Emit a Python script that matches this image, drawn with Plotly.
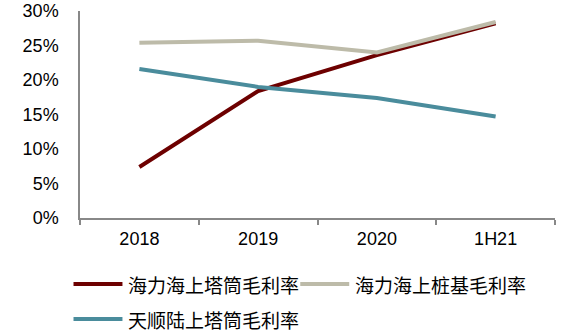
import plotly.graph_objects as go

# Gross margin by period (%)
periods = ["2018", "2019", "2020", "1H21"]
haili_tower = [7.4, 18.4, 23.6, 28.2]      # 海力海上塔筒毛利率
haili_pile = [25.4, 25.7, 24.0, 28.4]      # 海力海上桩基毛利率
tianshun_tower = [21.6, 19.0, 17.4, 14.7]  # 天顺陆上塔筒毛利率

series = [
    ("海力海上塔筒毛利率", haili_tower, "#6d0000"),
    ("海力海上桩基毛利率", haili_pile, "#bdbba9"),
    ("天顺陆上塔筒毛利率", tianshun_tower, "#4a8c9c"),
]

W, H = 583, 332
ML, MR, MT, MB = 79.5, 28, 11, 114

fig = go.Figure()
for name, vals, color in series:
    fig.add_trace(go.Scatter(
        x=periods, y=vals, name=name, mode="lines",
        line=dict(color=color, width=4),
        showlegend=False,
    ))

# Hand-drawn legend (line sample + label), positioned in pixels
pw = W - ML - MR
ph = H - MT - MB
def px_x(p):
    return (p - ML) / pw
def px_y(p):
    return 1 - (p - MT) / ph

legend_pos = [(73, 122, 126, 284), (300, 349, 353, 284), (73, 122, 126, 319)]
shapes = []
annotations = []
for (name, _, color), (x0, x1, tx, ty) in zip(series, legend_pos):
    shapes.append(dict(type="line", xref="paper", yref="paper",
                       x0=px_x(x0), x1=px_x(x1), y0=px_y(ty), y1=px_y(ty),
                       line=dict(color=color, width=4)))
    annotations.append(dict(text=name, xref="paper", yref="paper",
                            x=px_x(tx), y=px_y(ty), xanchor="left", yanchor="middle",
                            showarrow=False,
                            font=dict(family="Noto Sans CJK SC", size=19, color="#000000")))

fig.update_layout(
    width=W, height=H,
    margin=dict(l=ML, r=MR, t=MT, b=MB, pad=0),
    paper_bgcolor="white", plot_bgcolor="white",
    font=dict(family="Liberation Sans, Arial", size=18, color="#000000"),
    shapes=shapes, annotations=annotations,
    xaxis=dict(
        type="category", tickson="boundaries", range=[-0.5, len(periods) - 0.5],
        showline=True, linecolor="#888888", linewidth=1.5,
        ticks="outside", ticklen=5, tickcolor="#888888", tickwidth=1.5,
        showgrid=False, zeroline=False, automargin=False,
        ticklabelstandoff=4,
    ),
    yaxis=dict(
        range=[0, 30], tickvals=[0, 5, 10, 15, 20, 25, 30],
        ticktext=["0%", "5%", "10%", "15%", "20%", "25%", "30%"],
        showline=True, linecolor="#888888", linewidth=1.5,
        ticks="", showgrid=False, zeroline=False, automargin=False,
        ticklabelstandoff=16,
    ),
)

fig.write_html("out.html")
